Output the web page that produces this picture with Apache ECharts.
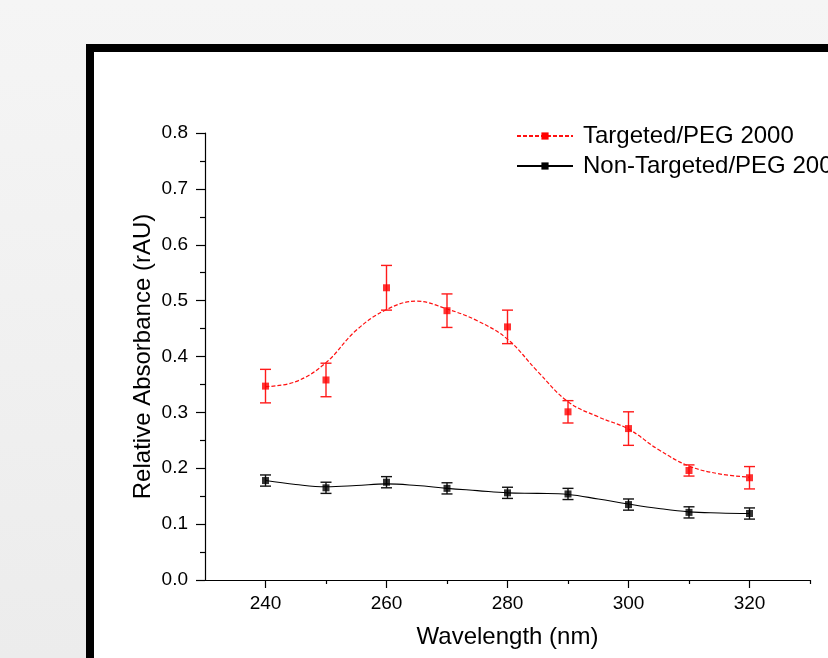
<!DOCTYPE html>
<html>
<head>
<meta charset="utf-8">
<script src="https://cdn.jsdelivr.net/npm/echarts@6/dist/echarts.min.js"></script>
<style>
  html, body { margin: 0; padding: 0; }
  body { background: linear-gradient(#f5f5f5, #ececec); }
  #chart { width: 828px; height: 658px; }
</style>
</head>
<body>
<div id="chart"></div>
<script>
// measured points (nm)
var wavelengths = [240, 250, 260, 270, 280, 290, 300, 310, 320];
var targetedMean = [0.347, 0.358, 0.523, 0.482, 0.453, 0.301, 0.271, 0.196, 0.183];
var targetedErr = [0.030, 0.030, 0.040, 0.030, 0.030, 0.020, 0.030, 0.010, 0.020];
var nonTargetedMean = [0.178, 0.165, 0.175, 0.164, 0.156, 0.154, 0.135, 0.121, 0.119];
var nonTargetedErr = [0.010, 0.010, 0.010, 0.010, 0.010, 0.010, 0.010, 0.010, 0.010];

// fitted curves, every 5 nm
var fitWavelengths = [240, 245, 250, 255, 260, 265, 270, 275, 280, 285, 290, 295, 300, 305, 310, 315, 320];
var targetedFit = [0.346, 0.355, 0.389, 0.447, 0.484, 0.499, 0.485, 0.464, 0.431, 0.373, 0.319, 0.292, 0.270, 0.233, 0.204, 0.190, 0.184];
var nonTargetedFit = [0.178, 0.171, 0.167, 0.169, 0.172, 0.169, 0.164, 0.160, 0.156, 0.155, 0.153, 0.145, 0.136, 0.128, 0.122, 0.120, 0.119];

// tick positions on the wavelength axis
var xMajorTicks = [240, 260, 280, 300, 320];
var xMinorTicks = [250, 270, 290, 310, 330];

var nameT = 'Targeted/PEG 2000';
var nameN = 'Non-Targeted/PEG 2000';
var font = 'Liberation Sans, Arial, sans-serif';

function pairs(xs, ys) {
  return xs.map(function (x, i) { return [x, ys[i]]; });
}
function triples(xs, ys, es) {
  return xs.map(function (x, i) { return [x, ys[i], es[i]]; });
}
// error bar drawer
function errorBar(color) {
  return function (params, api) {
    var x = api.value(0), y = api.value(1), e = api.value(2);
    var top = api.coord([x, y + e]);
    var bot = api.coord([x, y - e]);
    var hw = 5.5;
    var st = { stroke: color, lineWidth: 1.4 };
    return {
      type: 'group',
      children: [
        { type: 'line', shape: { x1: top[0], y1: top[1], x2: bot[0], y2: bot[1] }, style: st },
        { type: 'line', shape: { x1: top[0] - hw, y1: top[1], x2: top[0] + hw, y2: top[1] }, style: st },
        { type: 'line', shape: { x1: bot[0] - hw, y1: bot[1], x2: bot[0] + hw, y2: bot[1] }, style: st }
      ]
    };
  };
}

var myChart = echarts.init(document.getElementById('chart'), null, { renderer: 'canvas' });
var option = {
  backgroundColor: 'transparent',
  animation: false,
  textStyle: { fontFamily: font },
  graphic: [
    {
      type: 'rect',
      z: -10,
      shape: { x: 90, y: 48, width: 900, height: 800 },
      style: { fill: '#fff', stroke: '#000', lineWidth: 8 }
    }
  ],
  grid: { left: 205, right: 18, top: 133, bottom: 78 },
  legend: {
    orient: 'vertical',
    left: 511,
    top: 119,
    itemWidth: 56,
    itemHeight: 9,
    itemGap: 6,
    textStyle: { fontSize: 24, color: '#000', fontFamily: font, padding: [0, 0, 0, 5] },
    data: [nameT, nameN]
  },
  xAxis: [
    {
      type: 'value',
      min: 230,
      max: 330,
      interval: 10,
      name: 'Wavelength (nm)',
      nameLocation: 'middle',
      nameGap: 45,
      nameMoveOverlap: false,
      nameTextStyle: { fontSize: 24, color: '#000' },
      axisLine: { lineStyle: { color: '#000', width: 1.2 } },
      axisTick: { length: 8, customValues: xMajorTicks, lineStyle: { color: '#000', width: 1.2 } },
      axisLabel: {
        fontSize: 19,
        color: '#000',
        margin: 14,
        customValues: xMajorTicks
      },
      splitLine: { show: false }
    },
    {
      type: 'value',
      position: 'bottom',
      min: 230,
      max: 330,
      interval: 10,
      axisLine: { show: false },
      axisTick: { length: 4, customValues: xMinorTicks, lineStyle: { color: '#000', width: 1.2 } },
      axisLabel: { show: false },
      splitLine: { show: false }
    }
  ],
  yAxis: {
    type: 'value',
    min: 0,
    max: 0.8,
    interval: 0.1,
    name: 'Relative Absorbance (rAU)',
    nameLocation: 'middle',
    nameGap: 50,
    nameMoveOverlap: false,
    nameTextStyle: { fontSize: 24, color: '#000' },
    axisLine: { show: true, lineStyle: { color: '#000', width: 1.2 } },
    axisTick: { show: true, length: 9, lineStyle: { color: '#000', width: 1.2 } },
    minorTick: { show: true, splitNumber: 2, length: 5, lineStyle: { color: '#000', width: 1.2 } },
    axisLabel: {
      fontSize: 19,
      color: '#000',
      margin: 17,
      formatter: function (v) { return v.toFixed(1); }
    },
    splitLine: { show: false }
  },
  series: [
    {
      name: nameT,
      type: 'line',
      smooth: 0.4,
      symbol: 'rect',
      showSymbol: false,
      color: '#ff0000',
      lineStyle: { color: '#ff1010', width: 1.2, type: [4, 2] },
      data: pairs(fitWavelengths, targetedFit),
      z: 2
    },
    {
      name: nameN,
      type: 'line',
      smooth: 0.4,
      symbol: 'rect',
      showSymbol: false,
      color: '#000',
      lineStyle: { color: '#000', width: 1.1 },
      data: pairs(fitWavelengths, nonTargetedFit),
      z: 2
    },
    {
      name: nameT,
      type: 'custom',
      renderItem: errorBar('#ff1a1a'),
      data: triples(wavelengths, targetedMean, targetedErr),
      z: 3
    },
    {
      name: nameN,
      type: 'custom',
      renderItem: errorBar('#111'),
      data: triples(wavelengths, nonTargetedMean, nonTargetedErr),
      z: 3
    },
    {
      name: nameT,
      type: 'scatter',
      symbol: 'rect',
      symbolSize: 7,
      itemStyle: { color: '#ff0000' },
      data: pairs(wavelengths, targetedMean),
      z: 4
    },
    {
      name: nameN,
      type: 'scatter',
      symbol: 'rect',
      symbolSize: 7,
      itemStyle: { color: '#000' },
      data: pairs(wavelengths, nonTargetedMean),
      z: 4
    }
  ]
};
myChart.setOption(option);
</script>
</body>
</html>
